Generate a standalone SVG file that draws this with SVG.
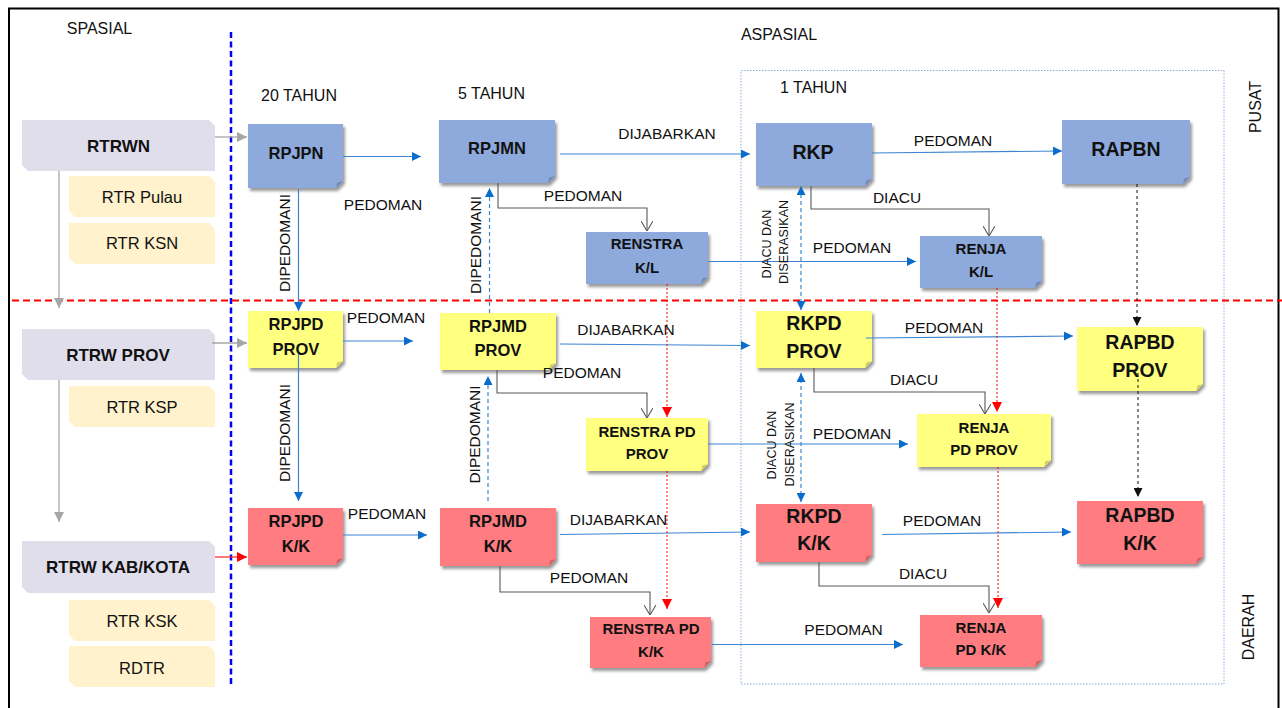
<svg xmlns="http://www.w3.org/2000/svg" width="1282" height="708" viewBox="0 0 1282 708">
<style>
text{font-family:"Liberation Sans",Arial,sans-serif;fill:#111}
.hd{font-size:16px}
.lb{font-size:15.5px}
.sm{font-size:12.5px}
.nt{font-weight:bold;font-size:16.5px;text-anchor:middle}
.nt2{font-weight:bold;font-size:15px;text-anchor:middle}
.ntb{font-weight:bold;font-size:19.5px;text-anchor:middle}
.st{font-weight:bold;font-size:17px;text-anchor:middle}
.sr{font-size:16.5px;text-anchor:middle}
.mid{text-anchor:middle}
.blue .body{fill:#8EA9DB}
.blue .fold{fill:#6F87B8}
.yel .body{fill:#FFFF80}
.yel .fold{fill:#CFCF5E}
.red .body{fill:#FF7C80}
.red .fold{fill:#CF5F63}
.body{filter:url(#sh)}
.lav{fill:#E1DEEC}
.bei{fill:#FFF2CC}
.cb{fill:none;stroke:#3D85D1;stroke-width:1.2;marker-end:url(#ab)}
.cbd{fill:none;stroke:#3D85D1;stroke-width:1.2;stroke-dasharray:4 3;marker-end:url(#ab)}
.cbb{fill:none;stroke:#3D85D1;stroke-width:1.2;stroke-dasharray:4 3;marker-end:url(#ab);marker-start:url(#abs)}
.cg{fill:none;stroke:#A6A6A6;stroke-width:1.3;marker-end:url(#ag)}
.cr{fill:none;stroke:#FF2020;stroke-width:1.2;marker-end:url(#ar)}
.ce{fill:none;stroke:#595959;stroke-width:1.1;marker-end:url(#ao)}
.crd{fill:none;stroke:#FF0000;stroke-width:1;stroke-dasharray:2 2;marker-end:url(#ar)}
.ckd{fill:none;stroke:#111;stroke-width:1;stroke-dasharray:3 3;marker-end:url(#ak)}
</style>
<defs>
<filter id="sh" x="-10%" y="-10%" width="130%" height="140%">
<feDropShadow dx="2" dy="3" stdDeviation="1.5" flood-color="#000" flood-opacity="0.4"/>
</filter>
<marker id="ab" viewBox="0 0 10 10" refX="10" refY="5" markerWidth="10" markerHeight="9" markerUnits="userSpaceOnUse" orient="auto"><path d="M0 0 L10 5 L0 10 Z" fill="#0A6CCB"/></marker>
<marker id="abs" viewBox="0 0 10 10" refX="10" refY="5" markerWidth="10" markerHeight="9" markerUnits="userSpaceOnUse" orient="auto-start-reverse"><path d="M0 0 L10 5 L0 10 Z" fill="#0A6CCB"/></marker>
<marker id="ag" viewBox="0 0 10 10" refX="10" refY="5" markerWidth="11" markerHeight="10" markerUnits="userSpaceOnUse" orient="auto"><path d="M0 0 L10 5 L0 10 Z" fill="#A6A6A6"/></marker>
<marker id="ar" viewBox="0 0 10 10" refX="10" refY="5" markerWidth="10" markerHeight="10" markerUnits="userSpaceOnUse" orient="auto"><path d="M0 0 L10 5 L0 10 Z" fill="#FF0000"/></marker>
<marker id="ak" viewBox="0 0 10 10" refX="10" refY="5" markerWidth="9" markerHeight="9" markerUnits="userSpaceOnUse" orient="auto"><path d="M0 0 L10 5 L0 10 Z" fill="#111"/></marker>
<marker id="ao" viewBox="0 0 10 12" refX="10" refY="6" markerWidth="10" markerHeight="12" markerUnits="userSpaceOnUse" orient="auto"><path d="M0 0 L10 6 L0 12" fill="none" stroke="#595959" stroke-width="1.1"/></marker>
</defs>
<rect x="0" y="0" width="1282" height="708" fill="#fff"/>
<rect x="9" y="8.5" width="1269.5" height="720" fill="none" stroke="#000" stroke-width="2"/>

<g id="headers">
<text class="hd" x="99.5" y="34" text-anchor="middle">SPASIAL</text>
<text class="hd" x="779" y="40" text-anchor="middle">ASPASIAL</text>
<text class="hd" x="299" y="101" text-anchor="middle">20 TAHUN</text>
<text class="hd" x="491.5" y="99" text-anchor="middle">5 TAHUN</text>
<text class="hd" x="813.5" y="93" text-anchor="middle">1 TAHUN</text>
<text class="hd" text-anchor="middle" transform="translate(1261,107) rotate(-90)">PUSAT</text>
<text class="hd" text-anchor="middle" transform="translate(1254,627) rotate(-90)">DAERAH</text>
</g>

<g id="dividers">
<rect x="741" y="70.5" width="483" height="613.5" fill="none" stroke="#8FAADC" stroke-width="1" stroke-dasharray="1.5 1.5"/>
<line x1="231" y1="32" x2="231" y2="687" stroke="#0000FF" stroke-width="2.5" stroke-dasharray="6 3.5"/>
<line x1="12" y1="300.5" x2="1282" y2="300.5" stroke="#FF0000" stroke-width="2" stroke-dasharray="7 4"/>
</g>

<g id="spatial">
<g id="n-rtrwn"><path class="lav" d="M22 120 H209 L215 126 V171 H28 L22 165 Z"/><text class="st" x="118.5" y="152">RTRWN</text></g>
<g id="n-rtr-pulau"><path class="bei" d="M69 176 H209 L215 182 V217 H75 L69 211 Z"/><text class="sr" x="142" y="203">RTR Pulau</text></g>
<g id="n-rtr-ksn"><path class="bei" d="M69 223 H209 L215 229 V264 H75 L69 258 Z"/><text class="sr" x="142" y="249">RTR KSN</text></g>
<g id="n-rtrw-prov"><path class="lav" d="M22 329 H209 L215 335 V380 H28 L22 374 Z"/><text class="st" x="118" y="361">RTRW PROV</text></g>
<g id="n-rtr-ksp"><path class="bei" d="M69 386 H209 L215 392 V427 H75 L69 421 Z"/><text class="sr" x="142" y="413">RTR KSP</text></g>
<g id="n-rtrw-kabkota"><path class="lav" d="M22 541 H209 L215 547 V593 H28 L22 587 Z"/><text class="st" x="118" y="573">RTRW KAB/KOTA</text></g>
<g id="n-rtr-ksk"><path class="bei" d="M69 600 H209 L215 606 V641 H75 L69 635 Z"/><text class="sr" x="142" y="627">RTR KSK</text></g>
<g id="n-rdtr"><path class="bei" d="M69 646 H209 L215 652 V687 H75 L69 681 Z"/><text class="sr" x="142" y="674">RDTR</text></g>
</g>

<g id="nodes">
<g id="n-rpjpn" class="blue"><path class="body" d="M248 124 H343 V181 L336 188 H248 Z"/><path class="fold" d="M336 188 L337.4 182.4 L343 181 Z"/><text class="nt" x="296" y="159">RPJPN</text></g>
<g id="n-rpjmn" class="blue"><path class="body" d="M439 120 H555 V176 L548 183 H439 Z"/><path class="fold" d="M548 183 L549.4 177.4 L555 176 Z"/><text class="nt" x="497" y="154">RPJMN</text></g>
<g id="n-rkp" class="blue"><path class="body" d="M756 123 H872 V179 L865 186 H756 Z"/><path class="fold" d="M865 186 L866.4 180.4 L872 179 Z"/><text class="ntb" x="813" y="159">RKP</text></g>
<g id="n-rapbn" class="blue"><path class="body" d="M1062 120 H1190 V177 L1183 184 H1062 Z"/><path class="fold" d="M1183 184 L1184.4 178.4 L1190 177 Z"/><text class="ntb" x="1126" y="156">RAPBN</text></g>
<g id="n-renstra-kl" class="blue"><path class="body" d="M586 232 H708 V277 L701 284 H586 Z"/><path class="fold" d="M701 284 L702.4 278.4 L708 277 Z"/><text class="nt2" x="647" y="248.5">RENSTRA</text><text class="nt2" x="647" y="272.5">K/L</text></g>
<g id="n-renja-kl" class="blue"><path class="body" d="M920 236 H1042 V281 L1035 288 H920 Z"/><path class="fold" d="M1035 288 L1036.4 282.4 L1042 281 Z"/><text class="nt2" x="981" y="253.5">RENJA</text><text class="nt2" x="981" y="276.5">K/L</text></g>

<g id="n-rpjpd-prov" class="yel"><path class="body" d="M248 311 H343 V361 L336 368 H248 Z"/><path class="fold" d="M336 368 L337.4 362.4 L343 361 Z"/><text class="nt" x="296" y="330">RPJPD</text><text class="nt" x="296" y="355">PROV</text></g>
<g id="n-rpjmd-prov" class="yel"><path class="body" d="M440 313 H556 V363 L549 370 H440 Z"/><path class="fold" d="M549 370 L550.4 364.4 L556 363 Z"/><text class="nt" x="498" y="332">RPJMD</text><text class="nt" x="498" y="356">PROV</text></g>
<g id="n-rkpd-prov" class="yel"><path class="body" d="M756 311 H872 V361 L865 368 H756 Z"/><path class="fold" d="M865 368 L866.4 362.4 L872 361 Z"/><text class="ntb" x="814" y="330">RKPD</text><text class="ntb" x="814" y="358">PROV</text></g>
<g id="n-rapbd-prov" class="yel"><path class="body" d="M1077 327 H1203 V384 L1196 391 H1077 Z"/><path class="fold" d="M1196 391 L1197.4 385.4 L1203 384 Z"/><text class="ntb" x="1140" y="349">RAPBD</text><text class="ntb" x="1140" y="377">PROV</text></g>
<g id="n-renstra-pd-prov" class="yel"><path class="body" d="M586 418 H708 V464 L701 471 H586 Z"/><path class="fold" d="M701 471 L702.4 465.4 L708 464 Z"/><text class="nt2" x="647" y="436.5">RENSTRA PD</text><text class="nt2" x="647" y="458.5">PROV</text></g>
<g id="n-renja-pd-prov" class="yel"><path class="body" d="M917 414 H1051 V460 L1044 467 H917 Z"/><path class="fold" d="M1044 467 L1045.4 461.4 L1051 460 Z"/><text class="nt2" x="984" y="432.5">RENJA</text><text class="nt2" x="984" y="454.5">PD PROV</text></g>

<g id="n-rpjpd-kk" class="red"><path class="body" d="M248 508 H343 V558 L336 565 H248 Z"/><path class="fold" d="M336 565 L337.4 559.4 L343 558 Z"/><text class="nt" x="296" y="527">RPJPD</text><text class="nt" x="296" y="552">K/K</text></g>
<g id="n-rpjmd-kk" class="red"><path class="body" d="M440 508 H556 V559 L549 566 H440 Z"/><path class="fold" d="M549 566 L550.4 560.4 L556 559 Z"/><text class="nt" x="498" y="527">RPJMD</text><text class="nt" x="498" y="552">K/K</text></g>
<g id="n-rkpd-kk" class="red"><path class="body" d="M756 504 H872 V555 L865 562 H756 Z"/><path class="fold" d="M865 562 L866.4 556.4 L872 555 Z"/><text class="ntb" x="814" y="523">RKPD</text><text class="ntb" x="814" y="550">K/K</text></g>
<g id="n-rapbd-kk" class="red"><path class="body" d="M1077 501 H1203 V557 L1196 564 H1077 Z"/><path class="fold" d="M1196 564 L1197.4 558.4 L1203 557 Z"/><text class="ntb" x="1140" y="522">RAPBD</text><text class="ntb" x="1140" y="550">K/K</text></g>
<g id="n-renstra-pd-kk" class="red"><path class="body" d="M590 617 H711 V661 L704 668 H590 Z"/><path class="fold" d="M704 668 L705.4 662.4 L711 661 Z"/><text class="nt2" x="651" y="633.5">RENSTRA PD</text><text class="nt2" x="651" y="656.5">K/K</text></g>
<g id="n-renja-pd-kk" class="red"><path class="body" d="M920 615 H1042 V660 L1035 667 H920 Z"/><path class="fold" d="M1035 667 L1036.4 661.4 L1042 660 Z"/><text class="nt2" x="981" y="632.5">RENJA</text><text class="nt2" x="981" y="654.5">PD K/K</text></g>
</g>

<g id="connectors">
<path class="cg" d="M215 137 H247"/>
<path class="cg" d="M212 343 H247"/>
<path class="cg" d="M59 171 V308"/>
<path class="cg" d="M59 380 V522"/>
<path class="cr" d="M215 557 H247"/>

<path class="cb" d="M343 156.5 H421"/>
<path class="cb" d="M560 154 H750"/>
<path class="cb" d="M872 153 L1062 151"/>
<path class="cb" d="M708 261.5 H916"/>
<path class="cb" d="M298.5 189 V311"/>
<path class="cb" d="M343 341 H413"/>
<path class="cb" d="M298.5 354 V501"/>
<path class="cb" d="M343 535 H427"/>
<path class="cb" d="M560 344 L750 345.5"/>
<path class="cb" d="M866 338 L1073 336"/>
<path class="cb" d="M708 444 H908"/>
<path class="cb" d="M560 534.5 L750 532"/>
<path class="cb" d="M882 534.5 L1071 532"/>
<path class="cb" d="M712 644.5 H903"/>

<path class="cbd" d="M489.5 313 V188"/>
<path class="cbd" d="M488 501 V376"/>
<path class="cbb" d="M801 310 V186"/>
<path class="cbb" d="M801 502 V373"/>

<path class="ce" d="M498 183 V208 H647 V231"/>
<path class="ce" d="M811 186 V209 H989 V236"/>
<path class="ce" d="M497 370 V393 H647 V418"/>
<path class="ce" d="M814 368 V392 H985 V414"/>
<path class="ce" d="M500 566 V592 H650 V615"/>
<path class="ce" d="M819 562 V586 H989 V613"/>

<path class="crd" d="M667 284 V417"/>
<path class="crd" d="M667 471 V609"/>
<path class="crd" d="M997 288 V412"/>
<path class="crd" d="M998 467 V608"/>

<path class="ckd" d="M1137 184 V326"/>
<path class="ckd" d="M1138 373 V497"/>
</g>

<g id="labels">
<text class="lb mid" x="383" y="209.5">PEDOMAN</text>
<text class="lb mid" x="667" y="138.5">DIJABARKAN</text>
<text class="lb mid" x="953" y="145.5">PEDOMAN</text>
<text class="lb mid" x="852" y="252.5">PEDOMAN</text>
<text class="lb mid" x="583" y="200.5">PEDOMAN</text>
<text class="lb mid" x="897" y="202.5">DIACU</text>
<text class="lb mid" transform="translate(289.5,243) rotate(-90)">DIPEDOMANI</text>
<text class="lb mid" x="386" y="322.5">PEDOMAN</text>
<text class="lb mid" transform="translate(289.5,433) rotate(-90)">DIPEDOMANI</text>
<text class="lb mid" x="387" y="518.5">PEDOMAN</text>
<text class="lb mid" transform="translate(480.5,245) rotate(-90)">DIPEDOMANI</text>
<text class="lb mid" transform="translate(479.5,434.5) rotate(-90)">DIPEDOMANI</text>
<text class="lb mid" x="626" y="334.5">DIJABARKAN</text>
<text class="lb mid" x="582" y="377.5">PEDOMAN</text>
<text class="sm mid" transform="translate(771,244) rotate(-90)">DIACU DAN</text>
<text class="sm mid" transform="translate(787.5,242) rotate(-90)">DISERASIKAN</text>
<text class="sm mid" transform="translate(775.5,445) rotate(-90)">DIACU DAN</text>
<text class="sm mid" transform="translate(793.5,444.5) rotate(-90)">DISERASIKAN</text>
<text class="lb mid" x="944" y="332.5">PEDOMAN</text>
<text class="lb mid" x="914" y="384.5">DIACU</text>
<text class="lb mid" x="852" y="438.5">PEDOMAN</text>
<text class="lb mid" x="618.5" y="524.5">DIJABARKAN</text>
<text class="lb mid" x="942" y="525.5">PEDOMAN</text>
<text class="lb mid" x="589" y="582.5">PEDOMAN</text>
<text class="lb mid" x="923" y="578.5">DIACU</text>
<text class="lb mid" x="843.5" y="634.5">PEDOMAN</text>
</g>
</svg>
